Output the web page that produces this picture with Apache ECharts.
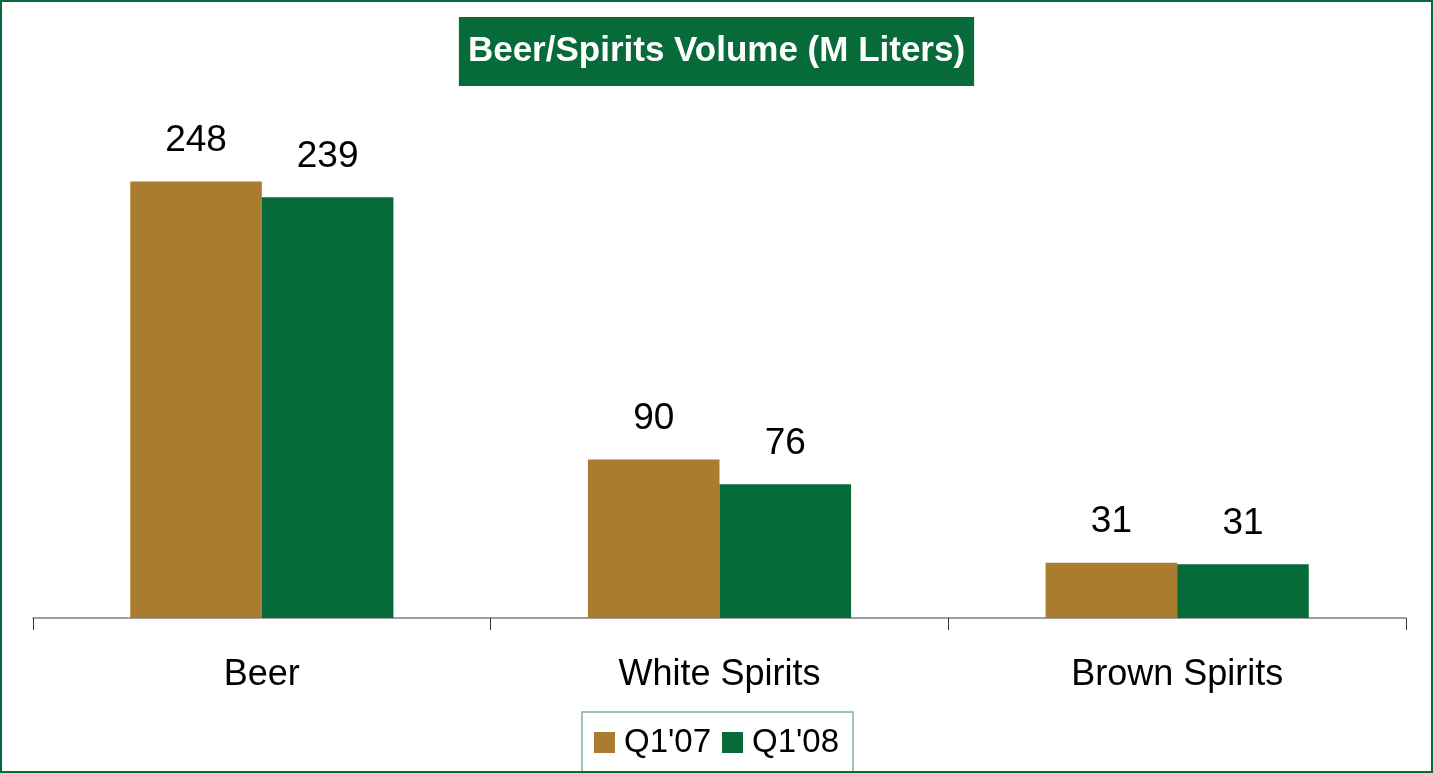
<!DOCTYPE html>
<html>
<head>
<meta charset="utf-8">
<script src="https://cdn.jsdelivr.net/npm/echarts@6/dist/echarts.min.js"></script>
<style>
  html, body { margin: 0; padding: 0; background: #fff; }
  #chart { width: 1433px; height: 773px; box-sizing: border-box; border: 2px solid #066b38; }
</style>
</head>
<body>
<div id="chart"></div>
<script>
// data
const categories = ['Beer', 'White Spirits', 'Brown Spirits']
const q107 = [248, 90, 31.4]
const q108 = [239, 76, 30.6]
const seriesNames = ["Q1'07", "Q1'08"]

const colors = ['#a97c30', '#066b38']
const font = 'Liberation Sans, Arial, sans-serif'

const myChart = echarts.init(document.getElementById('chart'))

const valueLabel = {
  show: true,
  position: 'top',
  distance: 22,
  fontFamily: font,
  fontSize: 37,
  color: '#000',
  formatter: (p) => Math.round(p.value)
}

const option = {
  color: colors,
  animation: false,
  title: {
    text: 'Beer/Spirits Volume (M Liters)',
    left: 'center',
    top: 15,
    backgroundColor: '#066b38',
    padding: [17, 9, 17, 9],
    textStyle: {
      color: '#fff',
      fontFamily: font,
      fontWeight: 'bold',
      fontSize: 35
    }
  },
  legend: {
    data: seriesNames,
    bottom: -2,
    left: 'center',
    borderColor: '#7fb596',
    borderWidth: 1.5,
    padding: [14, 14, 14, 12],
    itemWidth: 21,
    itemHeight: 21,
    itemGap: 11,
    icon: 'rect',
    textStyle: { fontFamily: font, fontSize: 33, color: '#000', padding: [0, 0, 0, 4] }
  },
  grid: {
    left: 31,
    right: 25,
    top: 88,
    bottom: 153,
    containLabel: false
  },
  xAxis: {
    type: 'category',
    data: categories,
    axisLine: { lineStyle: { color: '#808080', width: 1.5 } },
    axisTick: { show: true, length: 12, lineStyle: { color: '#333' } },
    axisLabel: { margin: 39, fontFamily: font, fontSize: 36, color: '#000' }
  },
  yAxis: {
    type: 'value',
    min: 0,
    max: 300,
    show: false,
    splitLine: { show: false }
  },
  series: [
    {
      name: seriesNames[0],
      type: 'bar',
      data: q107,
      barGap: '0%',
      barCategoryGap: '42.5%',
      label: valueLabel
    },
    {
      name: seriesNames[1],
      type: 'bar',
      data: q108,
      label: valueLabel
    }
  ]
}

myChart.setOption(option)
</script>
</body>
</html>
